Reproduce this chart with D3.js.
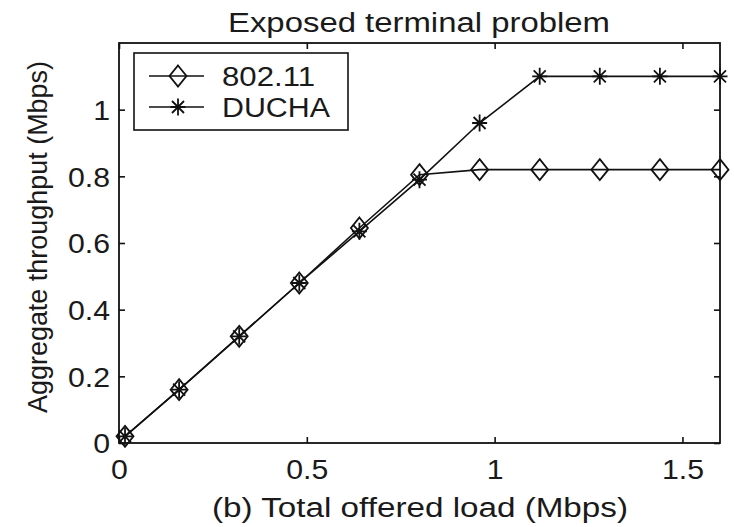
<!DOCTYPE html>
<html>
<head>
<meta charset="utf-8">
<script src="https://cdn.jsdelivr.net/npm/d3@7"></script>
<style>
  body { margin: 0; background: #fff; }
  text { font-family: 'Liberation Sans', Arial, sans-serif; fill: #1a1a1a; }
</style>
</head>
<body>
<div id="chart"></div>
<script>
// Data
const offeredLoad = [0.016, 0.16, 0.32, 0.48, 0.64, 0.8, 0.96, 1.12, 1.28, 1.44, 1.6];
const ieee80211 = [0.02, 0.16, 0.32, 0.48, 0.645, 0.805, 0.82, 0.82, 0.82, 0.82, 0.82];
const ducha = [0.02, 0.16, 0.32, 0.48, 0.635, 0.79, 0.96, 1.1, 1.1, 1.1, 1.1];
const seriesNames = ['802.11', 'DUCHA'];
const xTicks = [0, 0.5, 1, 1.5];
const yTicks = [0, 0.2, 0.4, 0.6, 0.8, 1];

const width = 734;
const height = 527;
const fontSize = 27;

const svg = d3.select('#chart')
  .append('svg')
  .attr('width', width)
  .attr('height', height);

// Plot area
const plotLeft = 119;
const plotRight = 720;
const plotTop = 43;
const plotBottom = 443;

const xScale = d3.scaleLinear().domain([0, 1.6]).range([plotLeft, plotRight]);
const yScale = d3.scaleLinear().domain([0, 1.2]).range([plotBottom, plotTop]);

const fmt = (d) => String(d);

// Axes with inward ticks on all four sides (matlab box style)
svg.append('g').attr('transform', `translate(0, ${plotBottom})`)
  .call(d3.axisBottom(xScale).tickValues(xTicks).tickFormat(fmt)
    .tickSizeInner(-6).tickSizeOuter(0).tickPadding(17));
const axisL = svg.append('g').attr('transform', `translate(${plotLeft}, 0)`)
  .call(d3.axisLeft(yScale).tickValues(yTicks).tickFormat(fmt)
    .tickSizeInner(-6).tickSizeOuter(0).tickPadding(9));
svg.append('g').attr('transform', `translate(0, ${plotTop})`)
  .call(d3.axisTop(xScale).tickValues(xTicks).tickFormat('')
    .tickSizeInner(-6).tickSizeOuter(0));
svg.append('g').attr('transform', `translate(${plotRight}, 0)`)
  .call(d3.axisRight(yScale).tickValues(yTicks).tickFormat('')
    .tickSizeInner(-6).tickSizeOuter(0));

svg.selectAll('.domain').remove();
svg.selectAll('.tick line').attr('stroke', '#111').attr('stroke-width', 1.6);
svg.selectAll('.tick text')
  .attr('font-size', fontSize)
  .attr('font-family', "'Liberation Sans', Arial, sans-serif")
  .attr('fill', '#1a1a1a');
axisL.selectAll('.tick text').attr('dy', '0.36em');

svg.append('rect')
  .attr('x', plotLeft).attr('y', plotTop)
  .attr('width', plotRight - plotLeft).attr('height', plotBottom - plotTop)
  .attr('fill', 'none').attr('stroke', '#111').attr('stroke-width', 1.8);

// Markers
const diamond = 'M0,-10.5L8.5,0L0,10.5L-8.5,0Z';
const star = 'M0,-8.5V8.5M-7.5,0H7.5M-6,-6L6,6M-6,6L6,-6';

const line = d3.line().x((d) => xScale(d[0])).y((d) => yScale(d[1]));
const series = [
  { name: seriesNames[0], values: ieee80211, marker: diamond },
  { name: seriesNames[1], values: ducha, marker: star },
];

series.forEach((s) => {
  const pts = offeredLoad.map((x, i) => [x, s.values[i]]);
  svg.append('path')
    .attr('d', line(pts))
    .attr('fill', 'none')
    .attr('stroke', '#111')
    .attr('stroke-width', 1.6);
  svg.append('g').selectAll('path')
    .data(pts).enter()
    .append('path')
    .attr('transform', (d) => `translate(${xScale(d[0])}, ${yScale(d[1])})`)
    .attr('d', s.marker)
    .attr('fill', 'none')
    .attr('stroke', '#111')
    .attr('stroke-width', 1.8);
});

// Legend
const legend = svg.append('g');
legend.append('rect')
  .attr('x', 134).attr('y', 53)
  .attr('width', 214).attr('height', 77)
  .attr('fill', '#fff').attr('stroke', '#111').attr('stroke-width', 1.6);

const legendRows = [76, 107];
const legendWidths = [93, 108];
series.forEach((s, i) => {
  const ly = legendRows[i];
  legend.append('line')
    .attr('x1', 149).attr('x2', 204).attr('y1', ly).attr('y2', ly)
    .attr('stroke', '#111').attr('stroke-width', 1.6);
  legend.append('path')
    .attr('transform', `translate(178, ${ly})`)
    .attr('d', s.marker)
    .attr('fill', 'none').attr('stroke', '#111').attr('stroke-width', 1.8);
  legend.append('text')
    .attr('x', 222).attr('y', ly)
    .attr('dy', '0.36em')
    .attr('font-size', fontSize)
    .attr('textLength', legendWidths[i])
    .attr('lengthAdjust', 'spacingAndGlyphs')
    .text(s.name);
});

// Title and axis labels
svg.append('text')
  .attr('x', 419).attr('y', 32)
  .attr('text-anchor', 'middle')
  .attr('font-size', fontSize)
  .attr('textLength', 382)
  .attr('lengthAdjust', 'spacingAndGlyphs')
  .text('Exposed terminal problem');

svg.append('text')
  .attr('x', 420).attr('y', 517)
  .attr('text-anchor', 'middle')
  .attr('font-size', fontSize)
  .attr('textLength', 416)
  .attr('lengthAdjust', 'spacingAndGlyphs')
  .text('(b) Total offered load (Mbps)');

svg.append('text')
  .attr('transform', 'translate(47, 237) rotate(-90)')
  .attr('text-anchor', 'middle')
  .attr('font-size', fontSize)
  .attr('textLength', 352)
  .attr('lengthAdjust', 'spacingAndGlyphs')
  .text('Aggregate throughput (Mbps)');

// Tick labels look a bit wider than plain Arial in the reference
svg.selectAll('.tick text').each(function stretch() {
  const w = this.getComputedTextLength();
  if (w > 0) {
    d3.select(this).attr('textLength', w * 1.12).attr('lengthAdjust', 'spacingAndGlyphs');
  }
});
</script>
</body>
</html>
